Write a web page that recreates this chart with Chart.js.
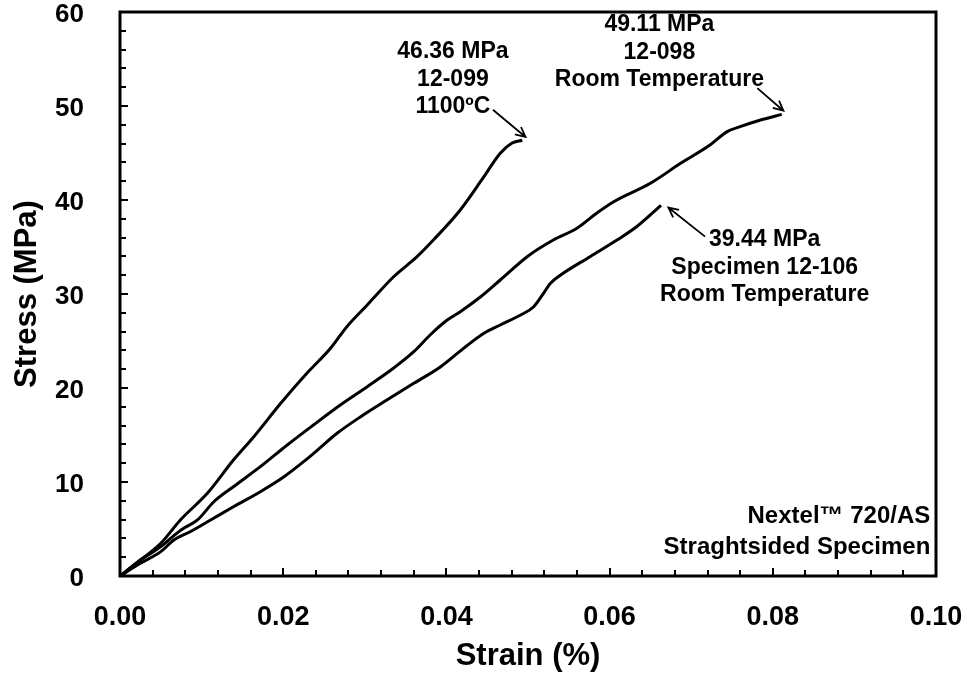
<!DOCTYPE html>
<html lang="en">
<head>
    <meta charset="UTF-8">
    <title>Nextel 720/AS Stress-Strain</title>
    <script src="https://cdn.jsdelivr.net/npm/chart.js"></script>
    <style>
        body { margin: 0; background: #fff; }
        canvas { display: block; }
    </style>
</head>
<body>
    <canvas id="stressChart" width="967" height="676"></canvas>

    <script>
        // Specimen 12-099, 1100 C
        var strain099 = [0, 0.0025, 0.0050, 0.0074, 0.0107, 0.0139, 0.0164, 0.0197, 0.0229, 0.0258, 0.0278, 0.0303, 0.0335, 0.0364, 0.0384, 0.0417, 0.0446, 0.0466, 0.0480, 0.0493];
        var stress099 = [0, 1.70, 3.48, 5.96, 8.80, 12.34, 14.82, 18.37, 21.56, 24.22, 26.52, 28.83, 31.81, 33.97, 35.74, 38.94, 42.48, 44.97, 46.03, 46.36];

        // Specimen 12-098, room temperature
        var strain098 = [0, 0.0025, 0.0050, 0.0062, 0.0078, 0.0095, 0.0115, 0.0139, 0.0172, 0.0205, 0.0237, 0.0270, 0.0303, 0.0335, 0.0360, 0.0380, 0.0401, 0.0417, 0.0442, 0.0466, 0.0499, 0.0531, 0.0560, 0.0584, 0.0605, 0.0650, 0.0687, 0.0723, 0.0744, 0.0760, 0.0785, 0.0811];
        var stress098 = [0, 1.70, 3.12, 4.01, 5.07, 5.96, 7.90, 9.50, 11.63, 13.94, 16.06, 18.19, 20.14, 22.10, 23.86, 25.64, 27.23, 28.12, 29.71, 31.49, 33.97, 35.74, 36.99, 38.59, 39.82, 41.78, 43.90, 45.85, 47.27, 47.80, 48.51, 49.11];

        // Specimen 12-106, room temperature
        var strain106 = [0, 0.0025, 0.0050, 0.0066, 0.0086, 0.0111, 0.0139, 0.0172, 0.0201, 0.0225, 0.0242, 0.0266, 0.0295, 0.0327, 0.0360, 0.0393, 0.0421, 0.0446, 0.0466, 0.0491, 0.0507, 0.0519, 0.0527, 0.0540, 0.0576, 0.0609, 0.0633, 0.0663];
        var stress106 = [0, 1.35, 2.59, 3.83, 4.71, 5.96, 7.37, 8.97, 10.56, 12.16, 13.40, 15.18, 16.95, 18.72, 20.50, 22.27, 24.22, 25.82, 26.70, 27.77, 28.65, 30.07, 31.10, 32.02, 33.97, 35.74, 37.16, 39.44];

        // axis ticks
        var xTicks = [0, 0.02, 0.04, 0.06, 0.08, 0.10];
        var yTicks = [0, 10, 20, 30, 40, 50, 60];
        var xMinorStep = 0.004;
        var yMinorStep = 2;

        // callouts (data coordinates)
        var notes = [
            { lines: ['46.36 MPa', '12-099', '1100\u00baC'], x: 0.0408, y: 55.74, align: 'center', size: 23 },
            { lines: ['49.11 MPa', '12-098', 'Room Temperature'], x: 0.0661, y: 58.62, align: 'center', size: 23 },
            { lines: ['39.44 MPa', 'Specimen 12-106', 'Room Temperature'], x: 0.0790, y: 35.74, align: 'center', size: 23 },
            { lines: ['Nextel\u2122 720/AS', 'Straghtsided Specimen'], x: 0.0993, y: 6.38, align: 'right', size: 24 }
        ];
        var arrows = [
            { from: [0.0457, 49.6], to: [0.0497, 46.7] },
            { from: [0.0781, 51.9], to: [0.0813, 49.5] },
            { from: [0.0717, 36.1], to: [0.0672, 39.2] }
        ];

        function toPoints(xs, ys) {
            return xs.map(function(v, i) { return { x: v, y: ys[i] }; });
        }

        var FONT = '"Liberation Sans", Arial, sans-serif';
        Chart.defaults.font.family = FONT;
        Chart.defaults.color = '#000';

        // box frame, inward ticks and callouts
        var decorations = {
            id: 'decorations',
            afterDatasetsDraw: function(chart) {
                var ctx = chart.ctx, a = chart.chartArea;
                var xs = chart.scales.x, ys = chart.scales.y;
                ctx.save();
                ctx.strokeStyle = '#000';
                ctx.fillStyle = '#000';

                ctx.lineWidth = 2;
                ctx.beginPath();
                for (var i = 1; i * xMinorStep < 0.1 - 1e-9; i++) {
                    var v = i * xMinorStep;
                    var major = Math.abs(v / 0.02 - Math.round(v / 0.02)) < 1e-6;
                    var px = Math.round(xs.getPixelForValue(v));
                    ctx.moveTo(px, a.bottom);
                    ctx.lineTo(px, a.bottom - (major ? 8 : 6));
                }
                for (var j = 1; j * yMinorStep < 60; j++) {
                    var w = j * yMinorStep;
                    var py = Math.round(ys.getPixelForValue(w));
                    ctx.moveTo(a.left, py);
                    ctx.lineTo(a.left + (w % 10 === 0 ? 8 : 6), py);
                }
                ctx.stroke();

                ctx.lineWidth = 3;
                ctx.strokeRect(a.left, a.top, a.right - a.left, a.bottom - a.top);

                // callout text
                ctx.textBaseline = 'middle';
                notes.forEach(function(n) {
                    ctx.font = 'bold ' + n.size + 'px ' + FONT;
                    ctx.textAlign = n.align;
                    var x0 = xs.getPixelForValue(n.x), y0 = ys.getPixelForValue(n.y);
                    n.lines.forEach(function(t, k) {
                        ctx.fillText(t, x0, y0 + k * (n.align === 'center' ? 27.5 : 31));
                    });
                });

                // arrows
                ctx.lineWidth = 1.8;
                arrows.forEach(function(ar) {
                    var x1 = xs.getPixelForValue(ar.from[0]), y1 = ys.getPixelForValue(ar.from[1]);
                    var x2 = xs.getPixelForValue(ar.to[0]), y2 = ys.getPixelForValue(ar.to[1]);
                    var ang = Math.atan2(y2 - y1, x2 - x1), hl = 11, hw = 0.45;
                    ctx.beginPath();
                    ctx.moveTo(x1, y1);
                    ctx.lineTo(x2, y2);
                    ctx.moveTo(x2 - hl * Math.cos(ang - hw), y2 - hl * Math.sin(ang - hw));
                    ctx.lineTo(x2, y2);
                    ctx.lineTo(x2 - hl * Math.cos(ang + hw), y2 - hl * Math.sin(ang + hw));
                    ctx.stroke();
                });
                ctx.restore();
            }
        };

        var lineStyle = {
            showLine: true,
            borderColor: '#000',
            borderWidth: 3,
            pointRadius: 0,
            cubicInterpolationMode: 'monotone',
            fill: false
        };

        var ctx = document.getElementById('stressChart').getContext('2d');
        var stressChart = new Chart(ctx, {
            type: 'scatter',
            data: {
                datasets: [
                    Object.assign({ label: '12-099 1100\u00baC', data: toPoints(strain099, stress099) }, lineStyle),
                    Object.assign({ label: '12-098 RT', data: toPoints(strain098, stress098) }, lineStyle),
                    Object.assign({ label: '12-106 RT', data: toPoints(strain106, stress106) }, lineStyle)
                ]
            },
            options: {
                responsive: false,
                animation: false,
                layout: { padding: { top: 12, right: 31, left: 0, bottom: 0 } },
                plugins: {
                    legend: { display: false },
                    tooltip: { enabled: false }
                },
                scales: {
                    x: {
                        type: 'linear',
                        min: 0,
                        max: 0.1,
                        grid: { display: false },
                        border: { display: false },
                        afterBuildTicks: function(s) { s.ticks = xTicks.map(function(v) { return { value: v }; }); },
                        afterFit: function(s) {
                            s.height = 100;
                            s.paddingLeft = 0; s.paddingRight = 0;
                        },
                        ticks: {
                            padding: 17,
                            maxRotation: 0,
                            autoSkip: false,
                            font: { size: 27, weight: 'bold' },
                            callback: function(v) { return v.toFixed(2); }
                        },
                        title: {
                            display: true,
                            text: 'Strain (%)',
                            font: { size: 31, weight: 'bold' },
                            padding: { top: 0, bottom: 1 }
                        }
                    },
                    y: {
                        type: 'linear',
                        min: 0,
                        max: 60,
                        grid: { display: false },
                        border: { display: false },
                        afterBuildTicks: function(s) { s.ticks = yTicks.map(function(v) { return { value: v }; }); },
                        afterFit: function(s) {
                            s.width = 120;
                            s.paddingTop = 0; s.paddingBottom = 0;
                        },
                        ticks: {
                            padding: 28,
                            labelOffset: 3,
                            autoSkip: false,
                            font: { size: 26, weight: 'bold' }
                        },
                        title: {
                            display: true,
                            text: 'Stress (MPa)',
                            font: { size: 31, weight: 'bold' },
                            padding: { top: 9, bottom: 0 }
                        }
                    }
                }
            },
            plugins: [decorations]
        });
    </script>
</body>
</html>
